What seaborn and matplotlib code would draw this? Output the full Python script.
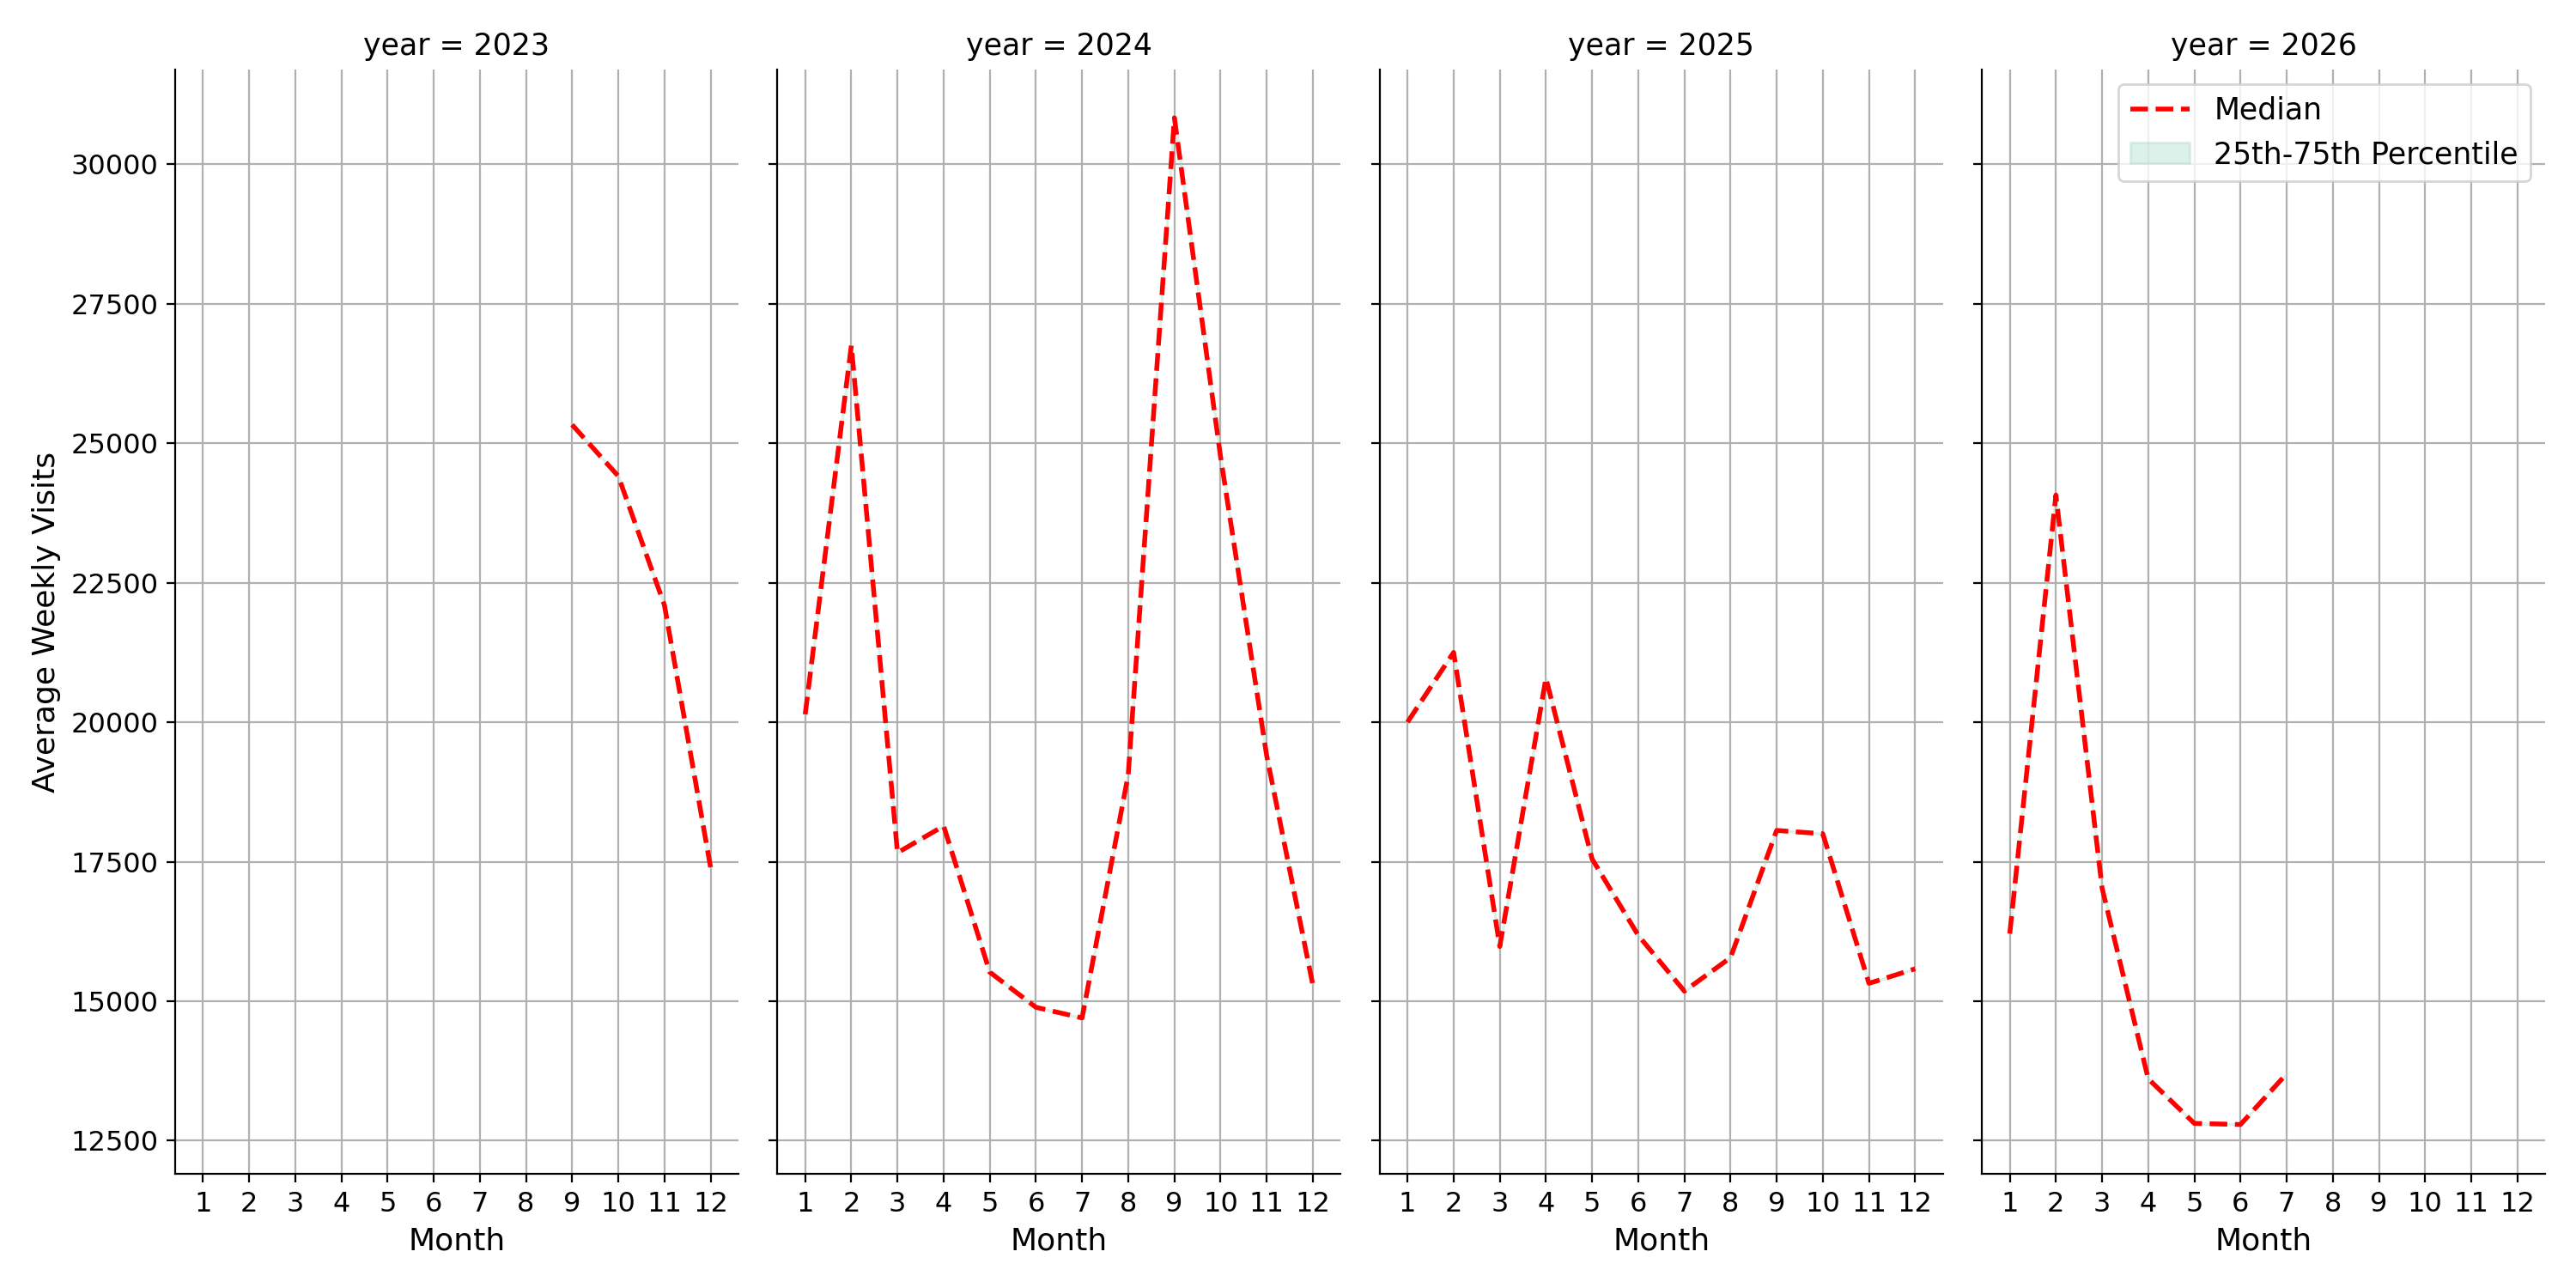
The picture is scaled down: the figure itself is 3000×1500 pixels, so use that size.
import matplotlib
matplotlib.use("Agg")
import matplotlib.pyplot as plt
import seaborn as sns
import pandas as pd
import numpy as np

years = [2023, 2024, 2025, 2026]
months_2023 = [9, 10, 11, 12]
median_2023 = [25330, 24410, 22100, 17400]
months_2024 = list(range(1, 13))
median_2024 = [20140, 26750, 17660, 18140, 15520, 14890, 14700, 19060, 30830, 24760, 19400, 15290]
months_2025 = list(range(1, 13))
median_2025 = [20000, 21250, 15980, 20790, 17550, 16180, 15180, 15780, 18060, 18000, 15320, 15580]
months_2026 = [1, 2, 3, 4, 5, 6, 7]
median_2026 = [16210, 24070, 17030, 13610, 12810, 12790, 13700]

frames = []
for y, m, v in zip(years, [months_2023, months_2024, months_2025, months_2026],
                   [median_2023, median_2024, median_2025, median_2026]):
    frames.append(pd.DataFrame({"year": y, "Month": m, "median": v}))
df = pd.concat(frames, ignore_index=True)

sns.set_style("ticks")
plt.rcParams.update({"font.size": 12, "text.color": "black", "axes.labelcolor": "black",
                     "xtick.color": "black", "ytick.color": "black", "axes.edgecolor": "black"})
g = sns.FacetGrid(df, col="year", col_order=years, sharey=True, sharex=False,
                  height=7.5, aspect=0.5)

def draw(data, **kw):
    ax = plt.gca()
    sns.lineplot(data=data, x="Month", y="median", ax=ax, color="red",
                 linestyle="--", linewidth=2, label="Median", legend=False)
    ax.fill_between(data["Month"], data["median"], data["median"],
                    color="#a8dcc8", alpha=0.4, label="25th-75th Percentile")

g.map_dataframe(draw)
g.set_titles("year = {col_name}", size=12.5)
for ax in g.axes.flat:
    ax.set_xticks(range(1, 13))
    ax.set_xlim(0.4, 12.6)
    ax.grid(True, color="#b0b0b0", linewidth=0.8)
    ax.set_xlabel("Month", fontsize=13)
    ax.tick_params(labelsize=11.5)
g.axes.flat[0].set_ylabel("Average Weekly Visits", fontsize=13)
g.axes.flat[0].set_ylim(11900, 31700)
g.axes.flat[0].set_yticks([12500, 15000, 17500, 20000, 22500, 25000, 27500, 30000])
g.axes.flat[-1].legend(loc="upper right", fontsize=12.5)
g.figure.set_size_inches(15, 7.5)
g.figure.tight_layout()
g.figure.savefig("out.png", dpi=200)
